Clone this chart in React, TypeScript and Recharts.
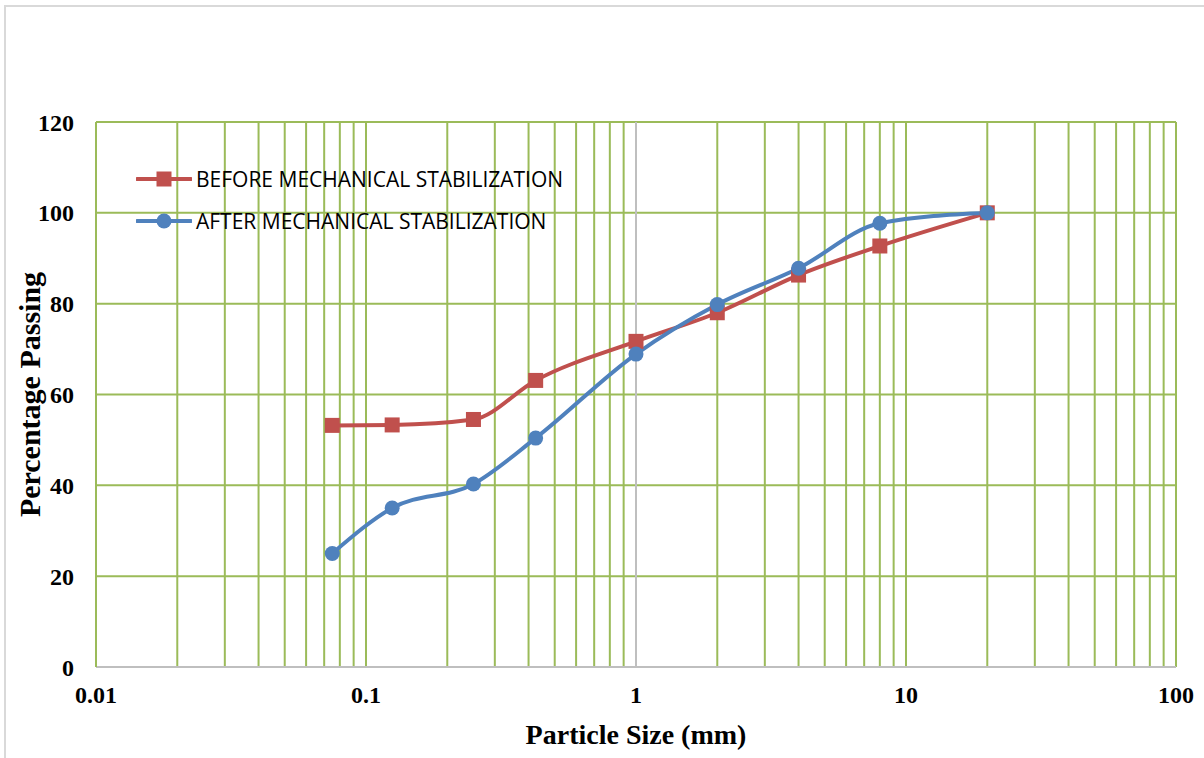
import React from 'react';
import { LineChart, Line, XAxis, YAxis, ReferenceLine, Legend, Label } from 'recharts';

const sizes = [0.075, 0.125, 0.25, 0.425, 1, 2, 4, 8, 20];
const beforeValues = [53.2, 53.3, 54.5, 63.1, 71.7, 78.0, 86.3, 92.7, 100];
const afterValues = [25.0, 35.0, 40.3, 50.4, 68.9, 79.8, 87.8, 97.7, 100];
const xTicks = [0.01, 0.1, 1, 10, 100];
const yTicks = [0, 20, 40, 60, 80, 100, 120];
const gridX = [
  0.02, 0.03, 0.04, 0.05, 0.06, 0.07, 0.08, 0.09, 0.1,
  0.2, 0.3, 0.4, 0.5, 0.6, 0.7, 0.8, 0.9,
  2, 3, 4, 5, 6, 7, 8, 9, 10,
  20, 30, 40, 50, 60, 70, 80, 90, 100,
];
const gridY = [20, 40, 60, 80, 100, 120];
const seriesNames = ['BEFORE MECHANICAL STABILIZATION', 'AFTER MECHANICAL STABILIZATION'];

const beforeData = sizes.map((x, i) => ({ x, y: beforeValues[i] }));
const afterData = sizes.map((x, i) => ({ x, y: afterValues[i] }));

const RED = '#C0504D';
const BLUE = '#4F81BD';
const GREEN = '#9BBB59';
const GRAY = '#BFBFBF';
const SERIF = '"Liberation Serif", "Times New Roman", serif';

const tickStyle = { fontSize: 24, fontWeight: 700, fill: '#000', fontFamily: SERIF };

const SquareDot = (props: any) => {
  const { cx, cy, index } = props;
  if (cx == null || cy == null) return <g key={`s${index}`} />;
  return <rect key={`s${index}`} x={cx - 7.5} y={cy - 7.5} width={15} height={15} fill={RED} />;
};
const CircleDot = (props: any) => {
  const { cx, cy, index } = props;
  if (cx == null || cy == null) return <g key={`c${index}`} />;
  return <circle key={`c${index}`} cx={cx} cy={cy} r={7.5} fill={BLUE} />;
};

const LegendContent = () => (
  <div style={{ fontFamily: '"Open Sans", sans-serif', fontSize: 21, color: '#000' }}>
    {seriesNames.map((name, i) => (
      <div key={name} style={{ display: 'flex', alignItems: 'center', height: 42 }}>
        <svg width={56} height={20} style={{ marginRight: 4 }}>
          <line x1={1} y1={10} x2={55} y2={10} stroke={i === 0 ? RED : BLUE} strokeWidth={4} strokeLinecap="round" />
          {i === 0 ? (
            <rect x={20.5} y={2.5} width={15} height={15} fill={RED} />
          ) : (
            <circle cx={28} cy={10} r={7.5} fill={BLUE} />
          )}
        </svg>
        <span style={{ whiteSpace: 'nowrap' }}>{name}</span>
      </div>
    ))}
  </div>
);

export default function App() {
  return (
    <div style={{ position: 'absolute', left: 0, top: 0, width: 1204, height: 758, background: '#fff', overflow: 'hidden' }}>
      <div style={{ position: 'absolute', left: 4, top: 5, right: 0, bottom: 0, borderLeft: '2px solid #D9D9D9', borderTop: '2px solid #D9D9D9' }} />
      <div style={{ position: 'absolute', left: 0, top: 0 }}>
        <LineChart width={1204} height={758} margin={{ top: 122, right: 28, bottom: 61, left: 0 }}>
          <XAxis
            type="number"
            dataKey="x"
            scale="log"
            domain={[0.01, 100]}
            ticks={xTicks}
            allowDataOverflow
            height={30}
            tickLine={false}
            tickMargin={13}
            axisLine={{ stroke: GRAY, strokeWidth: 2 }}
            tick={tickStyle}
            tickFormatter={(v: number) => String(v)}
          >
            <Label
              value="Particle Size (mm)"
              position="bottom"
              offset={27}
              style={{ fontSize: 28, fontWeight: 700, fill: '#000', fontFamily: SERIF }}
            />
          </XAxis>
          <YAxis
            type="number"
            domain={[0, 120]}
            ticks={yTicks}
            width={96}
            tickLine={false}
            tickMargin={16}
            axisLine={{ stroke: GREEN, strokeWidth: 2 }}
            tick={tickStyle}
          >
            <Label
              value="Percentage Passing"
              angle={-90}
              position="insideLeft"
              offset={29}
              style={{ fontSize: 30, fontWeight: 700, fill: '#000', fontFamily: SERIF, textAnchor: 'middle' }}
            />
          </YAxis>
          {gridY.map((v) => (
            <ReferenceLine key={`gy${v}`} y={v} stroke={GREEN} strokeWidth={2} />
          ))}
          {gridX.map((v) => (
            <ReferenceLine key={`gx${v}`} x={v} stroke={GREEN} strokeWidth={2} />
          ))}
          <ReferenceLine x={1} stroke={GRAY} strokeWidth={2} />
          <Legend
            layout="vertical"
            align="center"
            verticalAlign="middle"
            wrapperStyle={{ left: 136, top: 158, width: 'auto' }}
            content={LegendContent}
          />
          <Line
            data={beforeData}
            dataKey="y"
            type="monotone"
            stroke={RED}
            strokeWidth={4}
            dot={SquareDot}
            activeDot={false}
            isAnimationActive={false}
          />
          <Line
            data={afterData}
            dataKey="y"
            type="monotone"
            stroke={BLUE}
            strokeWidth={4}
            dot={CircleDot}
            activeDot={false}
            isAnimationActive={false}
          />
        </LineChart>
      </div>
    </div>
  );
}
